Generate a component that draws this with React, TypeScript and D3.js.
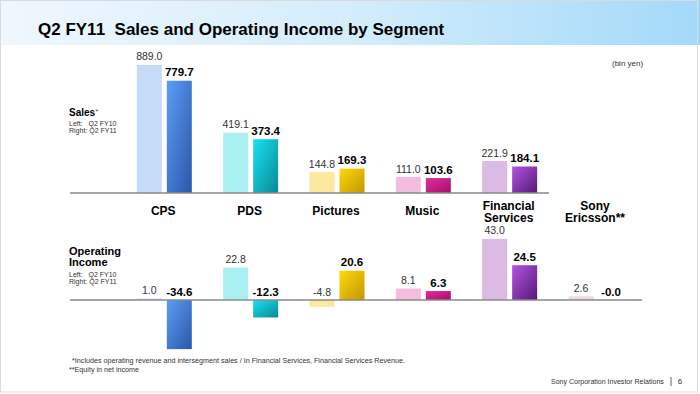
import React from "react";
import * as d3 from "d3";

const categories = ["CPS", "PDS", "Pictures", "Music", "Financial Services", "Sony Ericsson**"];
const categoryLines = [["CPS"], ["PDS"], ["Pictures"], ["Music"], ["Financial", "Services"], ["Sony", "Ericsson**"]];
const periods = ["Q2 FY10", "Q2 FY11"];

const salesFY10 = [889.0, 419.1, 144.8, 111.0, 221.9, null];
const salesFY11 = [779.7, 373.4, 169.3, 103.6, 184.1, null];
const opFY10 = [1.0, 22.8, -4.8, 8.1, 43.0, 2.6];
const opFY11 = [-34.6, -12.3, 20.6, 6.3, 24.5, -0.0];

const lightColors = ["#c6dbf8", "#aaf0f2", "#fde8a0", "#f4bde0", "#dbbbe4", "#efd8dc"];
const darkColors = [
  ["#5c9ef6", "#2a56aa"],
  ["#18e2f2", "#0a8894"],
  ["#ffd80a", "#c69600"],
  ["#e22c9e", "#a80e6a"],
  ["#b354e2", "#541a76"],
  ["#999999", "#666666"],
];

const FONT = "'Liberation Sans', Arial, sans-serif";
const NARROW = "'Liberation Sans Narrow', 'Liberation Sans', Arial, sans-serif";

const fmt = (v: number) => (Object.is(v, -0) ? "-0.0" : v.toFixed(1));

export default function App() {
  const W = 700;
  const H = 394;

  const x = d3.scalePoint<string>().domain(categories).range([164.3, 596]);
  const sub = d3.scaleBand<string>().domain(periods).range([-27.5, 27.5]).paddingInner(1 / 6);

  const salesBase = 193;
  const ySales = d3.scaleLinear().domain([0, 900]).range([salesBase, salesBase - 129.6]);
  const opBase = 300;
  const yOp = d3.scaleLinear().domain([-40, 50]).range([opBase + 40 * 1.42, opBase - 50 * 1.42]);

  const bars = (
    vals: (number | null)[],
    period: string,
    y: d3.ScaleLinear<number, number>,
    base: number,
    bold: boolean,
    key: string
  ) =>
    vals.map((v, i) => {
      if (v === null) return null;
      const bx = x(categories[i])! + sub(period)!;
      const bw = sub.bandwidth();
      const yv = y(v);
      const top = Math.min(yv, base);
      const h = Math.abs(yv - base);
      const labelY = Math.min(yv, base) - 4.5;
      const fill = bold ? `url(#grad${i})` : lightColors[i];
      return (
        <g key={key + i}>
          {h > 0.3 && <rect x={bx} y={top} width={bw} height={h} fill={fill} />}
          <text
            x={bx + bw / 2}
            y={labelY}
            textAnchor="middle"
            fontSize={bold ? 11.5 : 10.5}
            fontWeight={bold ? "bold" : "normal"}
            fill={bold ? "#000" : "#333"}
          >
            {fmt(v)}
          </text>
        </g>
      );
    });

  return (
    <svg
      width={W}
      height={H}
      style={{ position: "absolute", left: 0, top: 0, background: "#fff" }}
      fontFamily={FONT}
    >
      <defs>
        <linearGradient id="titleGrad" x1="0" y1="0" x2="1" y2="0">
          <stop offset="0" stopColor="#eff7fe" />
          <stop offset="0.5" stopColor="#d4edfc" />
          <stop offset="1" stopColor="#a3d9f9" />
        </linearGradient>
        {darkColors.map((c, i) => (
          <linearGradient key={i} id={`grad${i}`} x1="0" y1="0" x2="1" y2="1">
            <stop offset="0" stopColor={c[0]} />
            <stop offset="1" stopColor={c[1]} />
          </linearGradient>
        ))}
      </defs>

      <rect x={0} y={0} width={W} height={45} fill="url(#titleGrad)" />
      <rect x={0.5} y={0.5} width={697} height={391.5} fill="none" stroke="#dadada" />
      <text x={38} y={35} fontSize={17} fontWeight="bold" fill="#000">
        Q2 FY11{"\u00a0\u00a0"}Sales and Operating Income by Segment
      </text>

      <text x={612} y={66} fontSize={8} fill="#333">(bln yen)</text>

      {/* Sales */}
      <text x={69} y={116} fontSize={10} fontWeight="bold" fill="#000">
        Sales<tspan fontSize={8} fontWeight="normal" fill="#555" dy={-2}>*</tspan>
      </text>
      <text x={69} y={126} fontSize={7} fill="#333" fontFamily={NARROW}>Left:{"\u00a0\u00a0\u00a0"}{periods[0]}</text>
      <text x={69} y={132.5} fontSize={7} fill="#333" fontFamily={NARROW}>Right:{"\u00a0"}{periods[1]}</text>

      {bars(salesFY10, periods[0], ySales, salesBase, false, "s0")}
      {bars(salesFY11, periods[1], ySales, salesBase, true, "s1")}
      <line x1={70} x2={549} y1={salesBase} y2={salesBase} stroke="#8a8a8a" strokeWidth={1.5} />

      {categoryLines.map((lines, i) => (
        <text
          key={"c" + i}
          x={x(categories[i])! - 1}
          y={lines.length > 1 ? 209.5 : 215}
          textAnchor="middle"
          fontSize={12}
          fontWeight="bold"
          fill="#000"
        >
          {lines.map((l, j) => (
            <tspan key={j} x={x(categories[i])! - 1} dy={j === 0 ? 0 : 12.5}>
              {l}
            </tspan>
          ))}
        </text>
      ))}

      {/* Operating income */}
      <text x={69} y={255} fontSize={11} fontWeight="bold" fill="#000">Operating</text>
      <text x={69} y={266} fontSize={11} fontWeight="bold" fill="#000">Income</text>
      <text x={69} y={277} fontSize={7} fill="#333" fontFamily={NARROW}>Left:{"\u00a0\u00a0\u00a0"}{periods[0]}</text>
      <text x={69} y={283.5} fontSize={7} fill="#333" fontFamily={NARROW}>Right:{"\u00a0"}{periods[1]}</text>

      {bars(opFY10, periods[0], yOp, opBase, false, "o0")}
      {bars(opFY11, periods[1], yOp, opBase, true, "o1")}
      <line x1={70} x2={642} y1={opBase} y2={opBase} stroke="#8a8a8a" strokeWidth={1.5} />

      {/* Footnotes */}
      <text x={72} y={362.5} fontSize={8} fill="#333" fontFamily={NARROW} textLength={333} lengthAdjust="spacingAndGlyphs">
        *Includes operating revenue and intersegment sales / In Financial Services, Financial Services Revenue.
      </text>
      <text x={69} y={372} fontSize={8} fill="#333" fontFamily={NARROW} textLength={70} lengthAdjust="spacingAndGlyphs">
        **Equity in net income
      </text>
      <g transform="translate(551,384) scale(0.88,1)">
        <text x={0} y={0} fontSize={8} fill="#333">
          Sony Corporation Investor Relations
        </text>
      </g>
      <text x={671} y={384} fontSize={9} fill="#333" textAnchor="middle">|</text>
      <text x={680} y={384} fontSize={8} fill="#333" textAnchor="middle">6</text>
    </svg>
  );
}
